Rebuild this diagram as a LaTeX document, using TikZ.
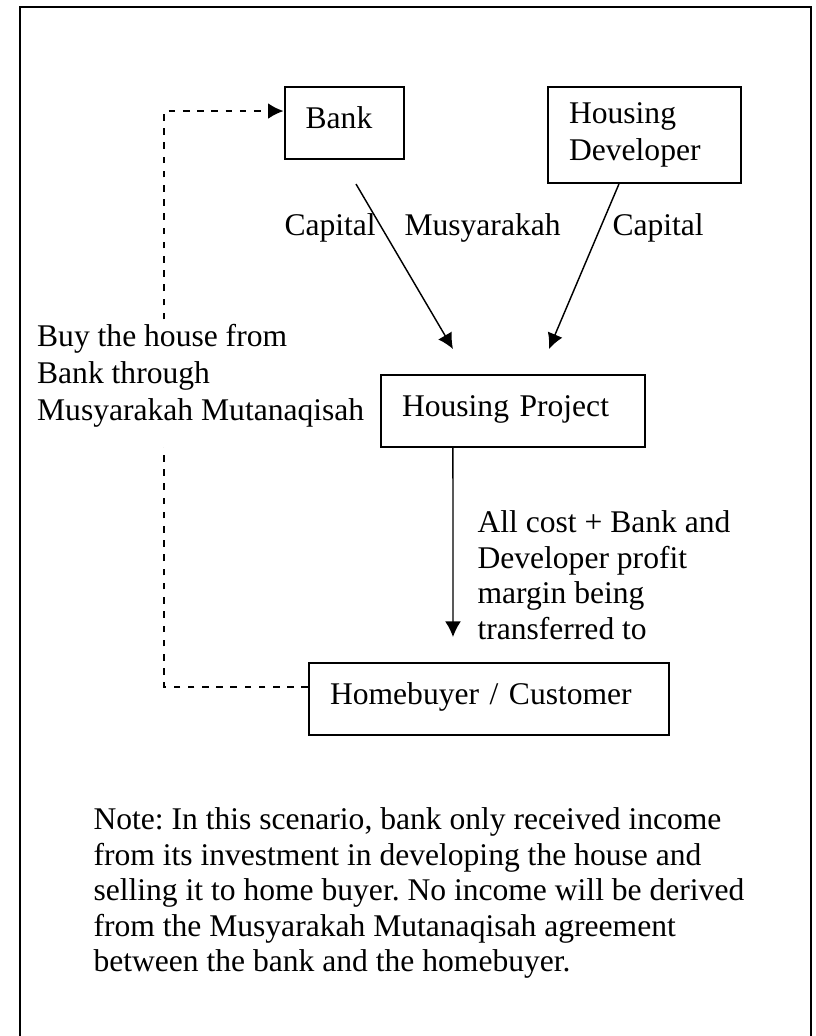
\documentclass[tikz,border=0pt]{standalone}
\usepackage{fontspec}
\setmainfont{Liberation Serif}
\usepackage{tikz}
\usetikzlibrary{arrows.meta}
\tikzset{>={Latex[length=5.9pt,width=6pt]}}
\frenchspacing
\tikzstyle{box}=[draw,line width=0.75pt,anchor=north west,align=left,inner xsep=8pt,inner ysep=0pt]
\tikzstyle{onebox}=[box,minimum height=27.4pt,text height=8.4pt,text depth=4.6pt]
\tikzstyle{flow}=[->,line width=0.55pt]
\tikzstyle{back}=[->,line width=0.8pt,dash pattern=on 2.5pt off 2.9pt]
\tikzstyle{txt}=[inner sep=0pt,align=left]

\begin{document}
\begin{tikzpicture}[x=0.38pt,y=-0.38pt,font=\fontsize{12}{13.5}\selectfont]
  \useasboundingbox (0,0) rectangle (815,1036);

  % FRAME
  \draw[line width=1.1pt] (20,1046) -- (20,7) -- (811,7) -- (811,1046);

  % BOXES
  \node[onebox,minimum width=45.4pt,text width=29.4pt] (bank) at (283.6,86) {Bank};
  \node[box,minimum width=73.3pt,minimum height=36.5pt,text width=57.3pt,
    font=\fontsize{12}{14}\selectfont] (dev) at (547,86) {Housing\\Developer};
  \node[onebox,minimum width=100.3pt,text width=84.3pt] (proj) at (380,374) {Housing Project};
  \node[onebox,minimum width=136.8pt,text width=120.8pt] (buyer) at (308,662) {Homebuyer / Customer};

  % ARROWS
  \draw[flow] ([shift={(11.7,24)}]bank.south) -- ([shift={(-60,-25)}]proj.north);
  \draw[flow] ([shift={(-25.5,0)}]dev.south) -- ([shift={(36,-25)}]proj.north);
  \draw[flow] ([shift={(-60,0)}]proj.south) -- ([shift={(-36,-25)}]buyer.north);
  \draw[back] ([shift={(0,-12)}]buyer.west) -- ++(-144,0) |- ([shift={(0,-12)}]bank.west);

  % LABELS
  \node[txt,anchor=base west] (capL) at (284,236) {Capital};
  \node[txt,anchor=base west] (musy) at (404,236) {Musyarakah};
  \node[txt,anchor=base west] (capR) at (612,236) {Capital};
  \node[txt,anchor=north west,fill=white,inner sep=1pt,text depth=9pt,
    font=\fontsize{12}{14}\selectfont] (buyL) at (34,321.5)
    {Buy the house from\\Bank through\\Musyarakah Mutanaqisah};
  \node[txt,anchor=north west] (flowtxt) at (477,510.4)
    {All cost + Bank and\\Developer profit\\margin being\\transferred to};

  % NOTE
  \node[txt,anchor=north west] (note) at (93,807.4)
    {Note: In this scenario, bank only received income\\
     from its investment in developing the house and\\
     selling it to home buyer. No income will be derived\\
     from the Musyarakah Mutanaqisah agreement\\
     between the bank and the homebuyer.};
\end{tikzpicture}
\end{document}
